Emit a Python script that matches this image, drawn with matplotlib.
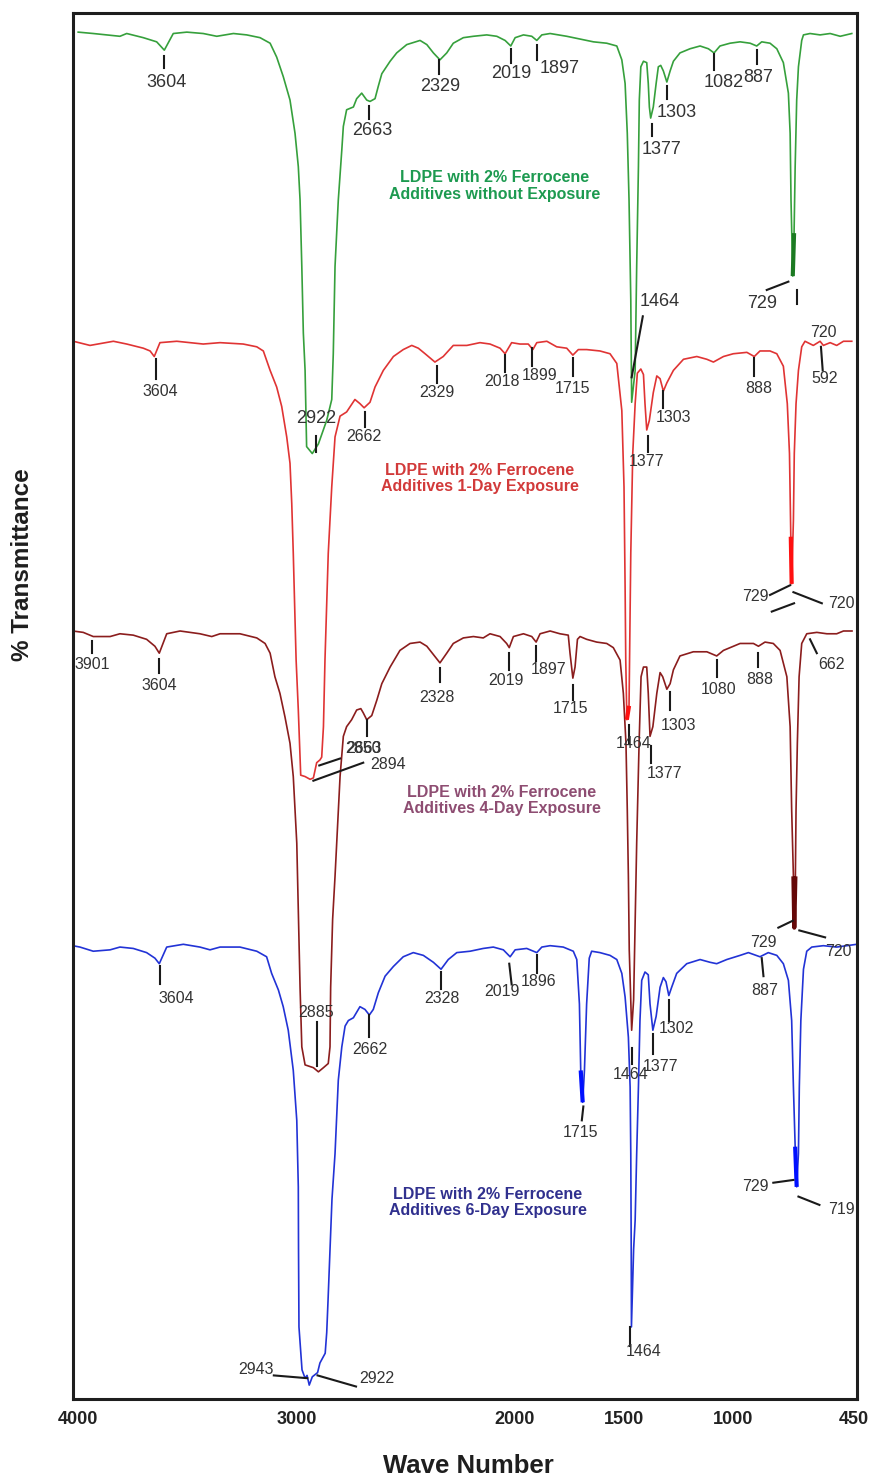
import numpy as np
import matplotlib.pyplot as plt

plt.rcParams['font.family'] = ['Liberation Sans', 'DejaVu Sans']

# --- spectra (wavenumber, stacked transmittance) ---
green_wn = [3998, 3929, 3807, 3776, 3700, 3639, 3604, 3563, 3501, 3426,
            3364, 3288, 3227, 3166, 3120, 3090, 3060, 3029, 3006, 2991,
            2983, 2975, 2968, 2960, 2953, 2927, 2899, 2861, 2838, 2831,
            2823, 2808, 2792, 2785, 2770, 2739, 2724, 2701, 2678, 2663,
            2640, 2625, 2609, 2571, 2541, 2495, 2434, 2403, 2373, 2343,
            2312, 2282, 2236, 2190, 2129, 2083, 2045, 2019, 1999, 1961,
            1923, 1900, 1877, 1839, 1763, 1702, 1641, 1580, 1534, 1511,
            1496, 1486, 1478, 1470, 1466, 1450, 1443, 1435, 1431, 1424,
            1412, 1397, 1390, 1385, 1379, 1367, 1354, 1344, 1333, 1321,
            1305, 1290, 1275, 1245, 1199, 1153, 1115, 1089, 1062, 1016,
            970, 924, 894, 871, 833, 802, 772, 749, 741, 737,
            729, 723, 718, 711, 703, 688, 680, 650, 604, 558,
            512, 459]
green_tr = [98.6, 98.5, 98.3, 98.5, 98.2, 97.9, 97.3, 98.5, 98.6, 98.5,
            98.3, 98.5, 98.4, 98.2, 97.8, 96.8, 95.4, 93.7, 91.3, 88.9,
            86.5, 81.7, 76.9, 74.2, 68.7, 68.2, 68.9, 70.6, 72.1, 75.4,
            81.7, 86.5, 90.1, 91.8, 93.0, 93.2, 93.8, 94.2, 93.7, 93.6,
            93.8, 94.7, 95.6, 96.5, 97.1, 97.7, 98.0, 97.7, 97.1, 96.6,
            97.1, 97.8, 98.2, 98.3, 98.4, 98.3, 98.0, 97.6, 98.2, 98.4,
            98.3, 98.0, 98.4, 98.5, 98.3, 98.1, 97.9, 97.8, 97.6, 96.6,
            94.9, 91.3, 86.5, 79.3, 71.9, 74.2, 81.7, 88.9, 93.7, 96.1,
            96.5, 96.4, 94.9, 93.2, 92.4, 93.2, 94.9, 96.1, 96.2, 95.8,
            95.0, 95.8, 96.5, 97.1, 97.4, 97.6, 97.4, 97.1, 97.6, 97.8,
            97.9, 97.8, 97.6, 97.9, 97.8, 97.4, 96.4, 94.2, 91.3, 86.5,
            81.0, 84.1, 88.9, 93.7, 96.1, 98.0, 98.4, 98.5, 98.4, 98.5,
            98.3, 98.5]

red_wn = [4050, 4020, 3944, 3837, 3776, 3700, 3669, 3650, 3624, 3547,
          3426, 3349, 3243, 3181, 3151, 3120, 3090, 3067, 3044, 3029,
          3021, 3014, 3006, 3001, 2991, 2980, 2960, 2937, 2922, 2907,
          2892, 2884, 2876, 2869, 2854, 2838, 2823, 2800, 2770, 2732,
          2709, 2690, 2663, 2640, 2602, 2556, 2511, 2472, 2442, 2411,
          2366, 2328, 2282, 2220, 2160, 2114, 2068, 2045, 2015, 1977,
          1939, 1918, 1900, 1854, 1809, 1763, 1735, 1710, 1672, 1611,
          1565, 1534, 1511, 1501, 1496, 1493, 1488, 1478, 1473, 1470,
          1461, 1450, 1440, 1424, 1412, 1405, 1397, 1385, 1367, 1351,
          1336, 1321, 1305, 1275, 1229, 1168, 1122, 1092, 1046, 1001,
          939, 905, 879, 833, 802, 772, 754, 744, 738, 734,
          726, 722, 714, 703, 688, 673, 635, 604, 589, 558,
          528, 497, 459]
red_tr = [76.3, 76.3, 76.0, 76.3, 76.1, 75.8, 75.6, 75.2, 76.2, 76.3,
          76.1, 76.2, 76.1, 75.9, 75.6, 74.2, 73.0, 71.6, 69.4, 67.5,
          64.6, 61.0, 56.2, 53.3, 49.7, 45.0, 44.9, 44.7, 44.8, 45.9,
          46.1, 46.3, 48.5, 53.3, 61.0, 65.8, 69.4, 70.9, 71.2, 72.1,
          71.8, 71.5, 71.9, 73.0, 74.2, 75.2, 75.7, 76.0, 75.8, 75.4,
          74.8, 75.2, 76.0, 76.0, 76.2, 76.1, 75.8, 75.4, 76.2, 76.1,
          76.1, 75.7, 76.2, 76.3, 75.9, 75.8, 75.3, 75.7, 75.7, 75.6,
          75.4, 74.7, 71.3, 65.8, 58.6, 53.3, 49.0, 50.0, 56.9, 61.0,
          68.2, 71.8, 74.0, 74.3, 73.9, 71.8, 69.9, 70.6, 72.6, 73.8,
          73.6, 72.7, 73.3, 74.2, 75.0, 75.2, 75.0, 74.8, 75.2, 75.4,
          75.5, 75.2, 75.6, 75.6, 75.4, 74.5, 71.8, 68.2, 62.2, 58.8,
          63.4, 68.2, 71.8, 74.2, 75.9, 76.3, 76.0, 76.3, 76.0, 76.2,
          76.0, 76.3, 76.3]

brown_wn = [4023, 3975, 3929, 3852, 3807, 3746, 3685, 3647, 3627, 3593,
            3532, 3441, 3387, 3349, 3258, 3181, 3143, 3120, 3098, 3075,
            3052, 3029, 3014, 3006, 2998, 2991, 2983, 2975, 2960, 2922,
            2899, 2876, 2854, 2846, 2843, 2834, 2823, 2808, 2800, 2785,
            2770, 2747, 2724, 2705, 2694, 2678, 2655, 2632, 2609, 2571,
            2526, 2480, 2434, 2403, 2373, 2343, 2312, 2282, 2236, 2190,
            2145, 2114, 2068, 2038, 2026, 2007, 1961, 1923, 1903, 1885,
            1839, 1794, 1756, 1748, 1735, 1725, 1714, 1702, 1672, 1626,
            1580, 1550, 1519, 1504, 1492, 1486, 1481, 1477, 1466, 1457,
            1450, 1443, 1432, 1423, 1412, 1397, 1390, 1382, 1369, 1351,
            1336, 1324, 1305, 1290, 1275, 1245, 1184, 1122, 1077, 1046,
            970, 909, 886, 856, 818, 787, 756, 741, 734, 726,
            722, 717, 714, 708, 700, 688, 665, 619, 573, 528,
            497, 458]
brown_tr = [55.4, 55.3, 55.0, 55.0, 55.2, 55.1, 54.8, 54.3, 53.8, 55.2,
            55.4, 55.2, 55.0, 55.2, 55.2, 54.9, 54.5, 53.8, 52.1, 50.9,
            49.2, 47.3, 44.9, 42.5, 40.1, 35.3, 29.7, 25.4, 24.1, 23.9,
            23.6, 23.9, 24.2, 25.4, 29.7, 34.6, 37.7, 42.5, 44.9, 47.8,
            48.5, 49.0, 49.7, 49.8, 49.5, 49.0, 49.3, 50.4, 51.6, 52.8,
            54.0, 54.5, 54.6, 54.3, 53.7, 53.1, 53.8, 54.5, 54.9, 55.0,
            54.9, 55.2, 55.0, 54.5, 54.2, 55.0, 55.2, 55.0, 54.6, 55.2,
            55.4, 55.2, 55.1, 53.8, 52.0, 52.8, 54.8, 55.0, 54.8, 54.6,
            54.5, 54.2, 53.3, 50.9, 47.3, 42.5, 37.7, 32.4, 26.6, 28.8,
            34.6, 40.1, 47.3, 52.1, 52.8, 52.8, 50.9, 47.8, 48.5, 50.9,
            52.4, 52.1, 51.2, 51.6, 52.6, 53.6, 53.9, 53.9, 53.6, 54.0,
            54.5, 54.5, 54.3, 54.6, 54.5, 54.0, 52.1, 48.5, 42.5, 37.7,
            34.0, 37.7, 42.5, 47.3, 52.1, 54.5, 55.2, 55.3, 55.2, 55.2,
            55.4, 55.4]

blue_wn = [4023, 3990, 3929, 3852, 3807, 3746, 3685, 3647, 3627, 3593,
           3517, 3441, 3395, 3349, 3258, 3181, 3136, 3113, 3082, 3060,
           3037, 3014, 2998, 2991, 2990, 2988, 2974, 2960, 2951, 2941,
           2927, 2903, 2892, 2868, 2861, 2855, 2846, 2837, 2823, 2808,
           2792, 2777, 2762, 2739, 2709, 2686, 2666, 2648, 2625, 2594,
           2556, 2511, 2465, 2419, 2373, 2338, 2305, 2266, 2205, 2145,
           2099, 2053, 2022, 1999, 1946, 1900, 1877, 1839, 1779, 1733,
           1717, 1705, 1699, 1690, 1682, 1672, 1660, 1649, 1611, 1565,
           1534, 1511, 1496, 1481, 1473, 1470, 1468, 1467, 1457, 1450,
           1443, 1435, 1428, 1420, 1405, 1390, 1382, 1369, 1354, 1336,
           1321, 1309, 1296, 1283, 1260, 1214, 1153, 1107, 1077, 1031,
           970, 932, 879, 841, 802, 772, 749, 734, 726, 718,
           711, 703, 699, 692, 680, 665, 642, 589, 528, 482,
           436]
blue_tr = [32.7, 32.6, 32.3, 32.4, 32.6, 32.5, 32.2, 31.8, 31.4, 32.6,
           32.8, 32.6, 32.4, 32.6, 32.6, 32.3, 31.9, 30.7, 29.5, 28.3,
           26.6, 23.7, 20.1, 15.3, 10.8, 5.2, 2.1, 1.5, 1.7, 1.0,
           1.6, 1.9, 2.6, 3.3, 4.8, 7.1, 10.8, 14.4, 17.7, 23.0,
           25.4, 26.9, 27.3, 27.5, 28.3, 28.1, 27.7, 28.1, 29.3, 30.5,
           31.2, 31.9, 32.2, 32.0, 31.5, 31.0, 31.7, 32.2, 32.3, 32.5,
           32.6, 32.4, 31.9, 32.4, 32.5, 32.2, 32.6, 32.7, 32.6, 32.3,
           31.7, 28.5, 23.7, 21.4, 23.7, 28.5, 31.8, 32.3, 32.2, 32.0,
           31.7, 30.7, 29.0, 26.1, 22.5, 17.7, 10.8, 5.2, 10.8, 12.9,
           17.7, 22.5, 27.3, 30.2, 30.8, 30.6, 28.5, 26.6, 27.6, 29.7,
           30.4, 30.1, 29.1, 29.7, 30.7, 31.4, 31.7, 31.5, 31.4, 31.7,
           32.0, 32.2, 31.9, 32.2, 32.0, 31.4, 30.2, 27.3, 22.5, 18.2,
           15.3, 17.7, 22.5, 27.3, 31.0, 32.3, 32.6, 32.7, 32.6, 32.7,
           32.8]

# --- peak labels: (text, leader line x0, y0, x1, y1, text position) ---
green_peaks = [
    ('3604', (3604, 96.9, 3604, 96.0), (3593, 95.0)),
    ('2663', (2666, 93.3, 2666, 92.3), (2655, 91.5)),
    ('2329', (2346, 96.6, 2346, 95.6), (2343, 94.7)),
    ('2019', (2019, 97.4, 2019, 96.4), (2015, 95.6)),
    ('1897', (1900, 97.7, 1900, 96.6), (1794, 96.0)),
    ('1377', (1374, 92.0, 1374, 91.1), (1328, 90.1)),
    ('1303', (1303, 94.7, 1303, 93.8), (1260, 92.8)),
    ('1082', (1089, 97.0, 1089, 95.9), (1046, 95.0)),
    ('887', (894, 97.3, 894, 96.3), (886, 95.3)),
    ('729', (848, 80.0, 749, 80.6), (871, 79.0)),
    ('', (711, 80.0, 711, 79.0), None),
    ('1464', (1415, 78.1, 1466, 73.7), (1336, 79.2)),
    ('2922', (2910, 69.5, 2910, 68.3), (2910, 70.7)),
]
red_peaks = [
    ('3604', (3643, 75.0, 3643, 73.6), (3624, 72.7)),
    ('2662', (2686, 71.2, 2686, 70.1), (2690, 69.4)),
    ('2329', (2358, 74.5, 2358, 73.3), (2355, 72.6)),
    ('2018', (2045, 75.3, 2045, 74.1), (2060, 73.4)),
    ('1899', (1923, 75.8, 1923, 74.5), (1888, 73.8)),
    ('1715', (1735, 75.1, 1735, 73.8), (1735, 72.9)),
    ('1377', (1392, 69.5, 1392, 68.3), (1397, 67.6)),
    ('1303', (1321, 72.7, 1321, 71.5), (1275, 70.8)),
    ('888', (905, 75.1, 905, 73.8), (886, 72.9)),
    ('720', (600, 75.9, 592, 74.2), (589, 76.9)),
    ('592', None, (581, 73.6)),
    ('729', (833, 58.0, 741, 58.7), (901, 57.9)),
    ('720', (726, 58.2, 596, 57.4), (505, 57.4)),
    ('', (825, 56.8, 723, 57.4), None),
]
brown_peaks = [
    ('3901', (3936, 54.7, 3936, 53.8), (3936, 53.0)),
    ('3604', (3628, 53.4, 3628, 52.4), (3627, 51.5)),
    ('2328', (2343, 52.7, 2343, 51.7), (2358, 50.6)),
    ('2850', None, (2693, 46.9)),
    ('2663', (2678, 49.0, 2678, 47.8), (2693, 46.9)),
    ('2894', (2922, 44.6, 2694, 45.9), (2579, 45.8)),
    ('', (2895, 45.7, 2800, 46.2), None),
    ('2019', (2026, 53.8, 2026, 52.6), (2041, 51.8)),
    ('1897', (1903, 54.3, 1903, 53.2), (1847, 52.6)),
    ('1715', (1735, 51.5, 1735, 50.4), (1748, 49.8)),
    ('1464', (1477, 48.6, 1477, 47.3), (1458, 47.3)),
    ('1303', (1290, 51.0, 1290, 49.7), (1252, 48.6)),
    ('1377', (1379, 47.1, 1379, 45.9), (1318, 45.1)),
    ('1080', (1077, 53.3, 1077, 52.1), (1069, 51.2)),
    ('888', (886, 53.8, 886, 52.8), (879, 51.9)),
    ('662', (650, 54.8, 619, 53.8), (550, 53.0)),
    ('729', (795, 34.0, 729, 34.5), (863, 32.9)),
    ('720', (699, 33.8, 581, 33.3), (520, 32.3)),
]
blue_peaks = [
    ('3604', (3624, 31.2, 3624, 29.9), (3550, 28.9)),
    ('2885', (2907, 27.2, 2907, 24.0), (2910, 27.9)),
    ('2662', (2666, 27.7, 2666, 26.1), (2663, 25.2)),
    ('2328', (2338, 30.8, 2338, 29.6), (2335, 28.9)),
    ('2019', (2026, 31.4, 2015, 29.9), (2060, 29.4)),
    ('1896', (1900, 32.0, 1900, 30.7), (1893, 30.1)),
    ('1715', (1687, 21.1, 1694, 20.1), (1702, 19.2)),
    ('1464', (1466, 25.3, 1466, 24.2), (1473, 23.4)),
    ('1377', (1367, 26.3, 1367, 24.9), (1336, 24.0)),
    ('1302', (1294, 28.8, 1294, 27.3), (1263, 26.7)),
    ('887', (871, 31.8, 863, 30.5), (856, 29.5)),
    ('729', (818, 15.6, 726, 15.8), (901, 15.3)),
    ('719', (703, 14.6, 607, 14.0), (505, 13.7)),
    ('2943', (3103, 1.7, 2950, 1.5), (3186, 2.1)),
    ('2922', (2903, 1.7, 2727, 0.9), (2632, 1.5)),
    ('1464', (1473, 5.2, 1473, 3.8), (1412, 3.4)),
]

titles = ['LDPE with 2% Ferrocene\nAdditives without Exposure',
          'LDPE with 2% Ferrocene\nAdditives 1-Day Exposure',
          'LDPE with 2% Ferrocene\nAdditives 4-Day Exposure',
          'LDPE with 2% Ferrocene\nAdditives 6-Day Exposure']
title_pos = [(2093, 87.5), (2160, 66.4), (2059, 43.2), (2125, 14.2)]

tick_vals = [4000, 3000, 2000, 1500, 1000, 450]

spectra = [
    (green_wn, green_tr, green_peaks, '#36a03c', '#1d9a50', 13, [(720, 735, 85)], '#1c7a22'),
    (red_wn, red_tr, red_peaks, '#e03434', '#d23a3a', 11.5, [(725, 740, 62.5), (1475, 1492, 51)], '#ff1010'),
    (brown_wn, brown_tr, brown_peaks, '#8b1d1d', '#8e4d72', 11.5, [(715, 730, 38)], '#650808'),
    (blue_wn, blue_tr, blue_peaks, '#2233d6', '#30308e', 11.5, [(705, 730, 18.5), (1685, 1700, 24)], '#0010ff'),
]

fig = plt.figure(figsize=(8.73, 14.79), dpi=100)
ax = fig.add_axes([0.0833, 0.0541, 0.8984, 0.9373])

for (wn, tr, peaks, col, tcol, fs, thick, tkcol), title, (tx, ty) in zip(spectra, titles, title_pos):
    wn = np.array(wn)
    tr = np.array(tr)
    ax.plot(wn, tr, color=col, lw=1.2, zorder=2)
    # heavier stroke at the deepest part of some bands
    for lo, hi, vmax in thick:
        m = (wn >= lo) & (wn <= hi) & (tr <= vmax)
        ax.plot(wn[m], tr[m], color=tkcol, lw=3, zorder=3, solid_capstyle='butt')
    for text, seg, pos in peaks:
        if seg is not None:
            ax.plot([seg[0], seg[2]], [seg[1], seg[3]], color='#1a1a1a', lw=1.5, zorder=4)
        if pos is not None and text:
            ax.text(pos[0], pos[1], text, ha='center', va='center', fontsize=fs,
                    color='#333333', zorder=5)
    ax.text(tx, ty, title, ha='center', va='center', fontsize=11.5, fontweight='bold',
            color=tcol, linespacing=1.1, zorder=5)

ax.set_xlim(4023, 435)
ax.set_ylim(0, 100)
ax.set_yticks([])
ax.set_xticks(tick_vals)
ax.set_xticklabels([str(v) for v in tick_vals], fontsize=13, fontweight='bold', color='#222222')
ax.tick_params(axis='x', length=0, pad=9)
for sp in ax.spines.values():
    sp.set_linewidth(2.2)
    sp.set_color('#1e1e1e')

fig.text(468 / 873, 1 - 1466 / 1479, 'Wave Number', ha='center', va='center',
         fontsize=18.5, fontweight='bold', color='#1e1e1e')
fig.text(22.5 / 873, 1 - 565 / 1479, '% Transmittance', ha='center', va='center',
         rotation=90, fontsize=17.5, fontweight='bold', color='#1e1e1e')

fig.savefig('out.png', dpi=100, facecolor='white')
